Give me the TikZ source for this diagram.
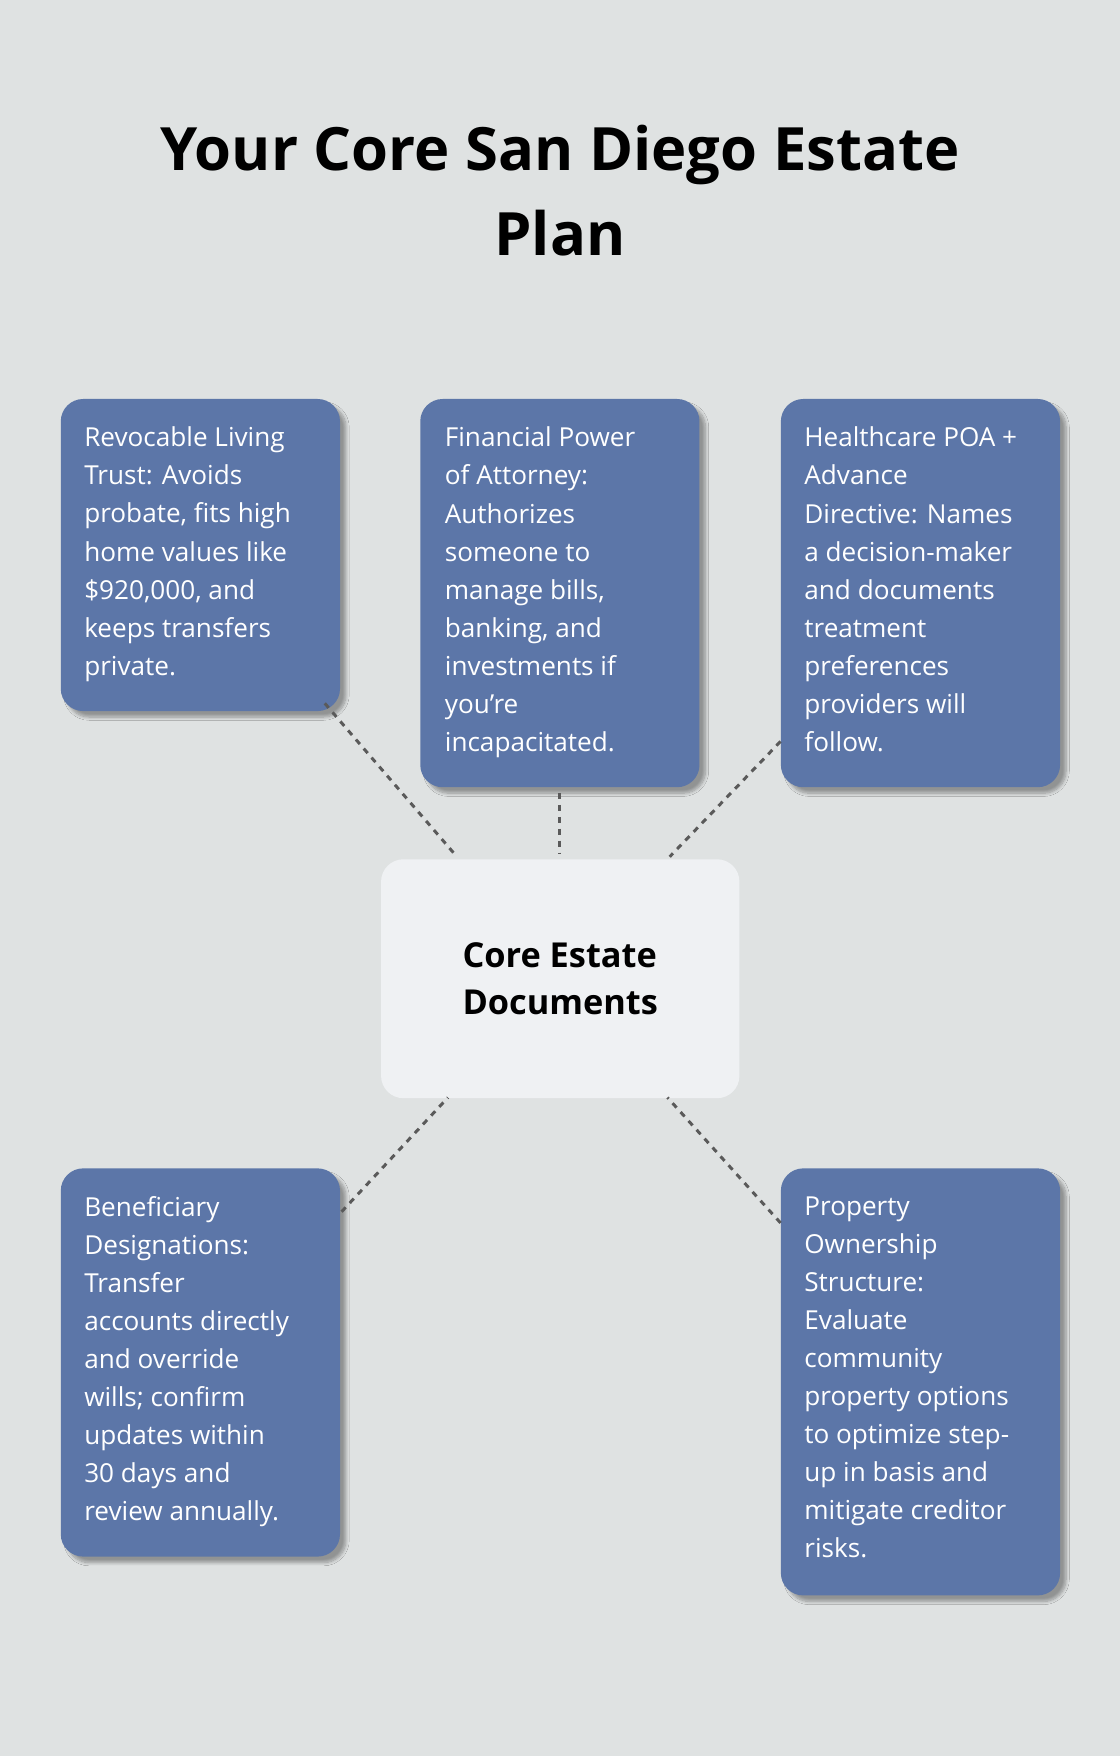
\documentclass[tikz,border=0pt]{standalone}
\usepackage{fontspec}
\setmainfont{Open Sans}
\usetikzlibrary{shadows.blur}
\definecolor{bg}{HTML}{DFE2E2}
\definecolor{boxc}{HTML}{5C76A8}
\definecolor{cen}{HTML}{EFF1F3}
\definecolor{conn}{HTML}{5A5A5A}
\tikzset{
 card/.style={draw=none,fill=boxc,rounded corners=15pt,blur shadow={shadow xshift=4pt,shadow yshift=-4pt,shadow blur steps=8,shadow opacity=35}},
 txt/.style={anchor=north west,align=left,text=white,font=\fontsize{17.5}{25.5}\selectfont,inner sep=0pt},
 conline/.style={draw=conn,line width=2pt,dash pattern=on 4pt off 4pt}
}
\begin{document}
\begin{tikzpicture}[x=0.75pt,y=-0.75pt]
\fill[bg] (0,0) rectangle (1000,1568);
\useasboundingbox (0,0) rectangle (1000,1568);
\node[font=\fontsize{40}{57}\selectfont\bfseries,align=center] (title) at (500,170) {Your Core San Diego Estate\\Plan};
\node[card,minimum width=187pt,minimum height=209pt,anchor=north west] (b1) at (54,356) {};
\node[card,minimum width=187pt,minimum height=260pt,anchor=north west] (b2) at (375,356) {};
\node[card,minimum width=187pt,minimum height=260pt,anchor=north west] (b3) at (697,356) {};
\node[card,minimum width=187pt,minimum height=260pt,anchor=north west] (b4) at (54,1043) {};
\node[card,minimum width=187pt,minimum height=286pt,anchor=north west] (b5) at (697,1043) {};
\node[draw=none,fill=cen,rounded corners=15pt,minimum width=240pt,minimum height=160pt,anchor=north west] (c) at (340,767) {};
\node[font=\fontsize{23}{32}\selectfont\bfseries,align=left] (ct) at (c.center) {Core Estate\\Documents};
\node[txt] (t1) at (75,381) {Revocable Living\\Trust: Avoids\\probate, fits high\\home values like\\\$920,000, and\\keeps transfers\\private.};
\node[txt] (t2) at (397,381) {Financial Power\\of Attorney:\\Authorizes\\someone to\\manage bills,\\banking, and\\investments if\\you’re\\incapacitated.};
\node[txt] (t3) at (718,381) {Healthcare POA +\\Advance\\Directive: Names\\a decision-maker\\and documents\\treatment\\preferences\\providers will\\follow.};
\node[txt] (t4) at (75,1068) {Beneficiary\\Designations:\\Transfer\\accounts directly\\and override\\wills; confirm\\updates within\\30 days and\\review annually.};
\node[txt] (t5) at (718,1068) {Property\\Ownership\\Structure:\\Evaluate\\community\\property options\\to optimize step-\\up in basis and\\mitigate creditor\\risks.};
\coordinate (p1) at (290,628); \coordinate (q1) at (408,765);
\coordinate (p2) at (500,708); \coordinate (q2) at (500,762);
\coordinate (p3) at (697,662); \coordinate (q3) at (598,765);
\coordinate (p4) at (305,1082); \coordinate (q4) at (400,980);
\coordinate (p5) at (697,1092); \coordinate (q5) at (596,980);
\foreach \i in {1,...,5} {\draw[conline] (p\i) -- (q\i);}
\end{tikzpicture}
\end{document}
